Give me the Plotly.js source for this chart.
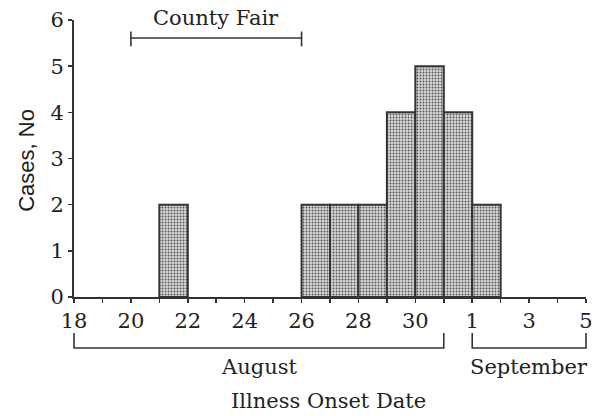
<!DOCTYPE html>
<html>
<head>
<meta charset="utf-8">
<script src="https://cdn.plot.ly/plotly-3.0.1.min.js"></script>
<style>html,body{margin:0;padding:0;background:#fff}#chart{width:599px;height:416px}</style>
</head>
<body>
<div id="chart"></div>
<script>
// Axis days (one tick per day, Aug 18 – Sep 5)
const axisDays = ['Aug 18','Aug 19','Aug 20','Aug 21','Aug 22','Aug 23','Aug 24','Aug 25','Aug 26','Aug 27','Aug 28','Aug 29','Aug 30','Aug 31','Sep 1','Sep 2','Sep 3','Sep 4','Sep 5'];
const tickLabels = ['18','','20','','22','','24','','26','','28','','30','','1','','3','','5'];
// Epidemic curve data
const onsetDates = ['Aug 21','Aug 26','Aug 27','Aug 28','Aug 29','Aug 30','Aug 31','Sep 1'];
const cases = [2,2,2,2,4,5,4,2];
// Period brackets
const fairStart = 'Aug 20', fairEnd = 'Aug 26';
const augStart = 'Aug 18', augEnd = 'Aug 31';
const sepStart = 'Sep 1', sepEnd = 'Sep 5';

const idx = d => axisDays.indexOf(d);
const nDays = axisDays.length - 1;
const px = d => idx(d) / nDays; // paper x

const FONT = 'DejaVu Serif, serif';
const SANS = 'Liberation Sans, Arial, sans-serif';
const INK = '#222';
const FS = 21;

const trace = {
  type: 'bar',
  x: onsetDates.map(d => idx(d) + 0.5),
  y: cases,
  width: onsetDates.map(() => 1),
  marker: {
    color: '#cfcfcf',
    line: {color: '#333', width: 2},
    pattern: {shape: '.', bgcolor: '#d6d6d6', fgcolor: '#555', size: 3, solidity: 0.3}
  },
  hoverinfo: 'skip'
};

const yTop = -0.130, yBot = -0.184;
function bracket(a, b) {
  return {type: 'path', xref: 'paper', yref: 'paper',
    path: `M ${px(a)},${yTop} L ${px(a)},${yBot} L ${px(b)},${yBot} L ${px(b)},${yTop}`,
    line: {color: '#333', width: 1.6}};
}

const layout = {
  width: 599, height: 416,
  margin: {l: 74, r: 13, t: 20, b: 119},
  paper_bgcolor: '#fff', plot_bgcolor: '#fff',
  showlegend: false,
  font: {family: FONT, size: FS, color: INK},
  bargap: 0,
  xaxis: {
    range: [0, nDays], tickmode: 'array',
    tickvals: axisDays.map((d, i) => i), ticktext: tickLabels,
    ticks: 'outside', ticklen: 4, tickwidth: 1.5, tickcolor: '#333',
    showline: true, linecolor: '#333', linewidth: 2,
    showgrid: false, zeroline: false, fixedrange: true,
    tickfont: {family: FONT, size: FS, color: INK}
  },
  yaxis: {
    range: [0, 6], tickmode: 'array', tickvals: [0,1,2,3,4,5,6],
    ticks: 'outside', ticklen: 4, tickwidth: 1.5, tickcolor: '#333',
    showline: true, linecolor: '#333', linewidth: 2,
    showgrid: false, zeroline: false, fixedrange: true,
    tickfont: {family: FONT, size: FS, color: INK}
  },
  shapes: [
    {type: 'line', xref: 'x', yref: 'y', x0: idx(fairStart), x1: idx(fairEnd), y0: 5.61, y1: 5.61, line: {color: '#333', width: 1.6}},
    {type: 'line', xref: 'x', yref: 'y', x0: idx(fairStart), x1: idx(fairStart), y0: 5.43, y1: 5.75, line: {color: '#333', width: 1.6}},
    {type: 'line', xref: 'x', yref: 'y', x0: idx(fairEnd), x1: idx(fairEnd), y0: 5.43, y1: 5.75, line: {color: '#333', width: 1.6}},
    bracket(augStart, augEnd),
    bracket(sepStart, sepEnd)
  ],
  annotations: [
    {text: 'County Fair', xref: 'x', yref: 'paper', x: (idx(fairStart) + idx(fairEnd)) / 2, y: 1.007, xanchor: 'center', yanchor: 'middle', showarrow: false, font: {family: FONT, size: FS, color: INK}},
    {text: 'August', xref: 'paper', yref: 'paper', x: (px(augStart) + px(augEnd)) / 2, y: -0.253, xanchor: 'center', yanchor: 'middle', showarrow: false, font: {family: FONT, size: FS, color: INK}},
    {text: 'September', xref: 'paper', yref: 'paper', x: (px(sepStart) + px(sepEnd)) / 2, y: -0.253, xanchor: 'center', yanchor: 'middle', showarrow: false, font: {family: FONT, size: FS, color: INK}},
    {text: 'Illness Onset Date', xref: 'paper', yref: 'paper', x: 0.498, y: -0.375, xanchor: 'center', yanchor: 'middle', showarrow: false, font: {family: FONT, size: FS, color: INK}},
    {text: 'Cases, No', xref: 'paper', yref: 'paper', x: -0.092, y: 0.495, xanchor: 'center', yanchor: 'middle', textangle: -90, showarrow: false, font: {family: SANS, size: 22, color: INK}}
  ]
};

Plotly.newPlot('chart', [trace], layout, {displayModeBar: false, staticPlot: true});
</script>
</body>
</html>
